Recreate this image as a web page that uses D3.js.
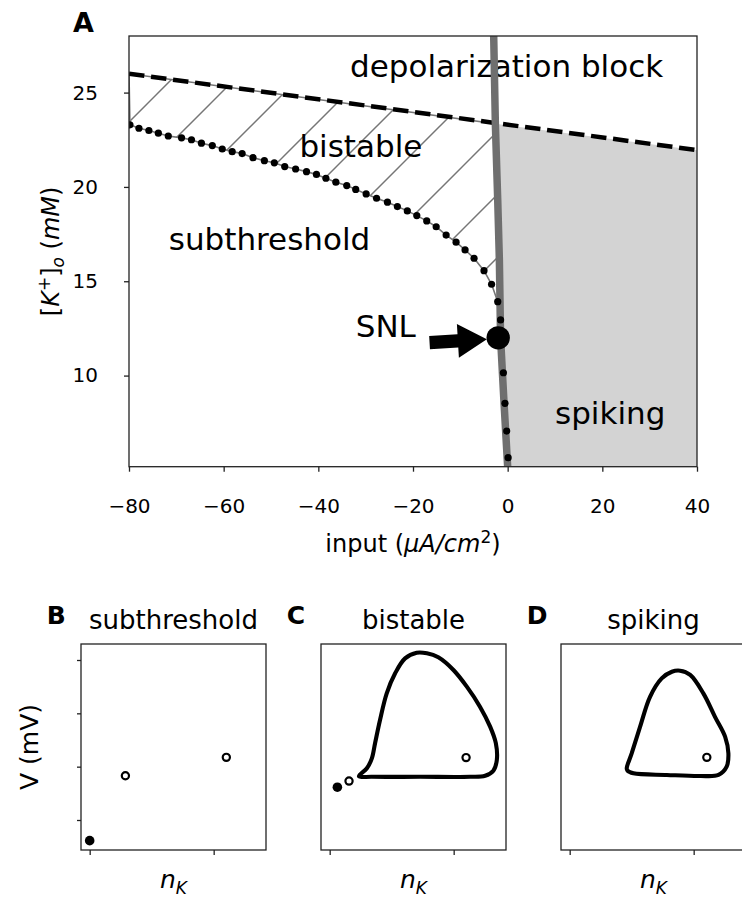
<!DOCTYPE html>
<html>
<head>
<meta charset="utf-8">
<script src="https://cdn.jsdelivr.net/npm/d3@7"></script>
<style>
  body { margin: 0; background: #fff; }
  svg { display: block; font-family: "DejaVu Sans", sans-serif; }
</style>
</head>
<body>
<svg id="fig" width="742" height="899"></svg>
<script>
// ---------------- Panel A: bifurcation diagram ----------------
const inputTicks = [-80, -60, -40, -20, 0, 20, 40];
const kTicks = [10, 15, 20, 25];

// depolarization-block boundary (dashed)
const blockInput = [-80, 40];
const blockK = [26.0, 21.95];

// spiking onset boundary (thick grey)
const onsetInput = [-2.95, -2.6, -2.1, -1.75, -1.5, -0.8, 0.0];
const onsetK = [28.0, 23.35, 19.3, 16.1, 12.0, 8.7, 5.17];

// fold of the resting state (dotted markers)
const foldInput = [-79.8, -77.9, -75.8, -73.8, -71.7, -68.9, -66.8, -64.7, -62.4, -60.3,
  -58.2, -56.1, -53.8, -51.4, -49.3, -47.1, -44.8, -42.5, -40.4, -38.4,
  -36.3, -34.0, -32.1, -29.9, -27.7, -25.4, -23.3, -21.2, -19.2, -17.1,
  -15.1, -13.0, -10.9, -9.0, -7.1, -5.0, -3.4, -2.1, -1.5, -0.9,
  -0.57, -0.2, 0.1];
const foldK = [23.29, 23.11, 22.99, 22.85, 22.70, 22.60, 22.50, 22.32, 22.19, 22.01,
  21.87, 21.77, 21.55, 21.39, 21.28, 21.08, 20.95, 20.81, 20.66, 20.46,
  20.25, 20.07, 19.87, 19.63, 19.40, 19.19, 18.96, 18.73, 18.48, 18.20,
  17.89, 17.45, 17.07, 16.66, 16.22, 15.56, 14.84, 13.92, 12.95, 10.15,
  8.53, 7.06, 5.65];

// saddle-node on limit cycle point and its annotation arrow
const snlInput = -2.0, snlK = 12.0;
const arrowFrom = [-16.5, 11.75];
const arrowTo = [-4.4, 11.93];

const regionNames = ["depolarization block", "bistable", "subthreshold", "SNL", "spiking"];
const regionInput = [-33.3, -44.0, -71.6, -32.1, 10.0];
const regionK = [25.82, 21.6, 16.66, 12.03, 7.43];

// ---------------- Panels B-D: phase planes ----------------
const panelLetters = ["B", "C", "D"];
const panelTitles = ["subthreshold", "bistable", "spiking"];
const nTicks = [0, 0.5];
const vTicks = [-60, -40, -20, 0];

// stable (filled) and unstable (open) equilibria
const stableN = [[0.0], [0.031], []];
const stableV = [[-67.75], [-47.7], []];
const unstableN = [[0.144, 0.551], [0.078, 0.55], [0.553]];
const unstableV = [[-43.4, -36.5], [-45.4, -36.6], [-36.5]];

// limit cycles
const cycleCN = [0.118, 0.150, 0.170, 0.183, 0.203, 0.230, 0.264, 0.304, 0.351, 0.392,
  0.438, 0.499, 0.553, 0.606, 0.647, 0.670, 0.674, 0.660, 0.627, 0.566, 0.365, 0.170];
const cycleCV = [-43.6, -40.6, -36.9, -31.2, -22.5, -12.5, -5.0, 0.6, 2.7, 2.5,
  1.0, -3.75, -10.0, -17.5, -25.0, -31.2, -37.5, -41.5, -43.4, -43.8, -43.8, -43.8];
const cycleDN = [0.230, 0.250, 0.284, 0.324, 0.371, 0.412, 0.445, 0.486, 0.539, 0.586,
  0.627, 0.640, 0.633, 0.600, 0.526, 0.392, 0.257, 0.233];
const cycleDV = [-40.6, -35.0, -25.0, -13.8, -6.9, -4.4, -4.0, -5.6, -12.5, -21.3,
  -28.8, -35.0, -40.0, -43.1, -43.5, -43.1, -42.5, -41.5];
const cyclesN = [null, cycleCN, cycleDN];
const cyclesV = [null, cycleCV, cycleDV];

// ================================================================
const svg = d3.select("#fig");
const defs = svg.append("defs");
const zip = (a, b) => a.map((v, i) => [v, b[i]]);

const A = { left: 129, right: 697, top: 36, bottom: 466.7 };
const x = d3.scaleLinear().domain([-80, 40]).range([A.left, A.right]);
const y = d3.scaleLinear().domain([5.17, 28]).range([A.bottom, A.top]);

defs.append("clipPath").attr("id", "clipA").append("rect")
  .attr("x", A.left).attr("y", A.top)
  .attr("width", A.right - A.left).attr("height", A.bottom - A.top);

// diagonal hatch for the bistable region
const hatch = defs.append("pattern").attr("id", "hatch")
  .attr("patternUnits", "userSpaceOnUse")
  .attr("x", 62).attr("y", 0).attr("width", 63).attr("height", 63);
hatch.selectAll("line").data([[0, 63, 63, 0], [-6, 6, 6, -6], [57, 69, 69, 57]]).join("line")
  .attr("x1", d => d[0]).attr("y1", d => d[1]).attr("x2", d => d[2]).attr("y2", d => d[3])
  .attr("stroke", "#767676").attr("stroke-width", 1.5);

const gA = svg.append("g").attr("clip-path", "url(#clipA)");
const line = d3.line().x(d => x(d[0])).y(d => y(d[1]));

const onset = zip(onsetInput, onsetK);
const fold = zip(foldInput, foldK);
const block = zip(blockInput, blockK);

// spiking region: right of the onset line, below the block line
const onsetBelowBlock = onset.filter(d => d[1] < 24).reverse();
const spikingPoly = onsetBelowBlock.concat([[blockInput[1], blockK[1]], [blockInput[1], 5.17]]);
gA.append("path").attr("d", line(spikingPoly) + "Z").attr("fill", "#d3d3d3");

// bistable region: between fold, onset line and block line
const foldAbove = fold.filter(d => d[1] > snlK);
const onsetUp = onset.filter(d => d[1] > snlK && d[1] < 24).reverse();
const bistablePoly = foldAbove.concat([[snlInput, snlK]], onsetUp, [[blockInput[0], blockK[0]]]);
gA.append("path").attr("d", line(bistablePoly) + "Z")
  .attr("fill", "url(#hatch)").attr("stroke", "#767676").attr("stroke-width", 1.6);

// region labels
gA.selectAll("text.region").data(regionNames).join("text")
  .attr("class", "region")
  .attr("x", (d, i) => x(regionInput[i])).attr("y", (d, i) => y(regionK[i]))
  .attr("font-size", 31).attr("fill", "#000").text(d => d);

// block boundary
gA.append("path").attr("d", line(block)).attr("fill", "none")
  .attr("stroke", "#000").attr("stroke-width", 4.5).attr("stroke-dasharray", "15.5 6.7");

// onset boundary
gA.append("path").attr("d", line(onset)).attr("fill", "none")
  .attr("stroke", "#6f6f6f").attr("stroke-width", 7.5);

// fold markers
gA.selectAll("circle.fold").data(fold).join("circle").attr("class", "fold")
  .attr("cx", d => x(d[0])).attr("cy", d => y(d[1])).attr("r", 3.6).attr("fill", "#000");

// SNL point
gA.append("circle").attr("cx", x(snlInput)).attr("cy", y(snlK)).attr("r", 11.7).attr("fill", "#000");

// annotation arrow
(function () {
  const x0 = x(arrowFrom[0]), y0 = y(arrowFrom[1]);
  const x1 = x(arrowTo[0]), y1 = y(arrowTo[1]);
  const L = Math.hypot(x1 - x0, y1 - y0);
  const ux = (x1 - x0) / L, uy = (y1 - y0) / L;
  const nx = -uy, ny = ux;
  const sw = 6.6, hw = 17, hl = 29;
  const bx = x1 - ux * hl, by = y1 - uy * hl;
  const pts = [
    [x0 + nx * sw, y0 + ny * sw], [bx + nx * sw, by + ny * sw], [bx + nx * hw, by + ny * hw],
    [x1, y1],
    [bx - nx * hw, by - ny * hw], [bx - nx * sw, by - ny * sw], [x0 - nx * sw, y0 - ny * sw]
  ];
  gA.append("path").attr("d", d3.line()(pts) + "Z").attr("fill", "#000");
})();

// frame and axes
svg.append("rect").attr("x", A.left).attr("y", A.top)
  .attr("width", A.right - A.left).attr("height", A.bottom - A.top)
  .attr("fill", "none").attr("stroke", "#222").attr("stroke-width", 1.3);

const xAxisA = svg.append("g").attr("transform", `translate(0,${A.bottom})`)
  .call(d3.axisBottom(x).tickValues(inputTicks).tickSize(5).tickPadding(27));
const yAxisA = svg.append("g").attr("transform", `translate(${A.left},0)`)
  .call(d3.axisLeft(y).tickValues(kTicks).tickSize(5).tickPadding(26));
[xAxisA, yAxisA].forEach(g => {
  g.select(".domain").remove();
  g.selectAll("line").attr("stroke", "#222").attr("stroke-width", 1.3);
  g.selectAll("text").attr("font-size", 20).attr("fill", "#000")
    .attr("font-family", "DejaVu Sans, sans-serif");
});

svg.append("text").attr("x", 73).attr("y", 31.7)
  .attr("font-size", 27).attr("font-weight", "bold").text("A");

// x label: input (μA/cm²)
const xl = svg.append("text").attr("x", (A.left + A.right) / 2).attr("y", 551.7)
  .attr("text-anchor", "middle").attr("font-size", 24);
xl.append("tspan").text("input (");
xl.append("tspan").attr("font-style", "italic").text("μA/cm");
xl.append("tspan").attr("font-size", 17).attr("dy", -9).text("2");
xl.append("tspan").attr("dy", 9).text(")");

// y label: [K⁺]ₒ (mM)
const yl = svg.append("text")
  .attr("transform", `translate(59,${(A.top + A.bottom) / 2}) rotate(-90)`)
  .attr("text-anchor", "middle").attr("font-size", 24);
yl.append("tspan").text("[");
yl.append("tspan").attr("font-style", "italic").text("K");
yl.append("tspan").attr("font-size", 17).attr("dy", -9).text("+");
yl.append("tspan").attr("dy", 9).text("]");
yl.append("tspan").attr("font-size", 17).attr("font-style", "italic").attr("dy", 5).text("o");
yl.append("tspan").attr("dy", -5).text(" (");
yl.append("tspan").attr("font-style", "italic").text("mM");
yl.append("tspan").text(")");

// ---------------- B-D ----------------
const P = { lefts: [81, 321, 561], width: 185, top: 644, bottom: 850 };
const yv = d3.scaleLinear().domain([-71.25, 6]).range([P.bottom, P.top]);

panelLetters.forEach((letter, i) => {
  const left = P.lefts[i];
  const xn = d3.scaleLinear().domain([-0.035, 0.711]).range([left, left + P.width]);
  const g = svg.append("g");

  if (cyclesN[i]) {
    g.append("path")
      .attr("d", d3.line().x(d => xn(d[0])).y(d => yv(d[1]))
        .curve(d3.curveCatmullRomClosed.alpha(0.5))(zip(cyclesN[i], cyclesV[i])))
      .attr("fill", "none").attr("stroke", "#000").attr("stroke-width", 4.1)
      .attr("stroke-linejoin", "round");
  }
  g.selectAll("circle.stable").data(zip(stableN[i], stableV[i])).join("circle")
    .attr("class", "stable").attr("cx", d => xn(d[0])).attr("cy", d => yv(d[1]))
    .attr("r", 4.8).attr("fill", "#000");
  g.selectAll("circle.unstable").data(zip(unstableN[i], unstableV[i])).join("circle")
    .attr("class", "unstable").attr("cx", d => xn(d[0])).attr("cy", d => yv(d[1]))
    .attr("r", 3.6).attr("fill", "#fff").attr("stroke", "#000").attr("stroke-width", 2.2);

  g.append("rect").attr("x", left).attr("y", P.top)
    .attr("width", P.width).attr("height", P.bottom - P.top)
    .attr("fill", "none").attr("stroke", "#222").attr("stroke-width", 1.3);

  const xa = g.append("g").attr("transform", `translate(0,${P.bottom})`)
    .call(d3.axisBottom(xn).tickValues(nTicks).tickSize(5).tickFormat(""));
  xa.select(".domain").remove();
  xa.selectAll("line").attr("stroke", "#222").attr("stroke-width", 1.3);
  if (i === 0) {
    const ya = g.append("g").attr("transform", `translate(${left},0)`)
      .call(d3.axisLeft(yv).tickValues(vTicks).tickSize(4).tickFormat(""));
    ya.select(".domain").remove();
    ya.selectAll("line").attr("stroke", "#222").attr("stroke-width", 1.3);
  }

  const cx = left + P.width / 2;
  g.append("text").attr("x", cx).attr("y", 629.3).attr("text-anchor", "middle")
    .attr("font-size", 26).text(panelTitles[i]);
  g.append("text").attr("x", left - 34.3).attr("y", 624.3)
    .attr("font-size", 25).attr("font-weight", "bold").text(letter);

  const nl = g.append("text").attr("x", cx).attr("y", 888)
    .attr("text-anchor", "middle").attr("font-size", 25);
  nl.append("tspan").attr("font-style", "italic").text("n");
  nl.append("tspan").attr("font-style", "italic").attr("font-size", 17).attr("dy", 6).text("K");
});

svg.append("text").attr("transform", `translate(38,${(P.top + P.bottom) / 2}) rotate(-90)`)
  .attr("text-anchor", "middle").attr("font-size", 25).text("V (mV)");
</script>
</body>
</html>
